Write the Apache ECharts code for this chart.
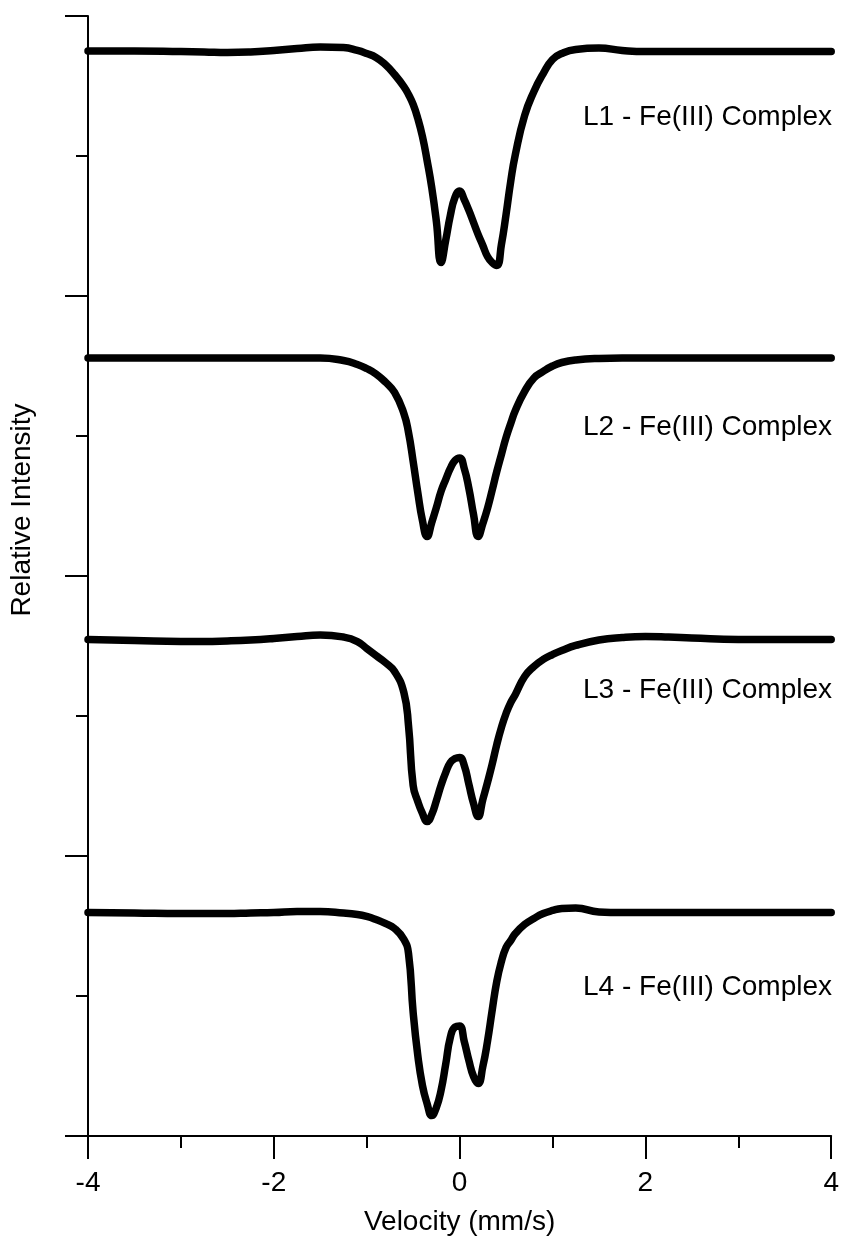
<!DOCTYPE html>
<html lang="en" style="height: 100%">

<head>
  <meta charset="utf-8">
  <style>
    html,
    body {
      margin: 0;
      padding: 0;
      width: 100%;
      height: 100%;
      overflow: hidden;
      background: #fff;
    }
  </style>
</head>

<body>
  <div id="container" style="height: 100%;width: 100%;"></div>

  <script type="text/javascript" src="https://cdn.jsdelivr.net/npm/echarts@6/dist/echarts.min.js"></script>
  <script type="text/javascript">

    var dom = document.getElementById('container');
    var myChart = echarts.init(dom, null, { renderer: 'canvas' });

    var fontFamily = '"Liberation Sans", Arial, sans-serif';

    // velocity grid (mm/s), shared by all four spectra
    let velocity = [-4, -3.5, -3, -2.75, -2.5, -2.25, -2, -1.75, -1.5, -1.25, -1.1, -1, -0.9, -0.8, -0.7, -0.6,
      -0.55, -0.5, -0.45, -0.4, -0.35, -0.3, -0.25, -0.2, -0.15, -0.1, -0.05, 0, 0.05, 0.1, 0.15, 0.2,
      0.25, 0.3, 0.35, 0.4, 0.45, 0.5, 0.55, 0.6, 0.7, 0.8, 0.9, 1, 1.1, 1.25, 1.5, 1.75, 2, 2.25, 2.5, 3, 3.5, 4];

    // relative intensity, stacked (arbitrary units, 0..8)
    let l1 = [7.750, 7.750, 7.746, 7.743, 7.739, 7.743, 7.754, 7.768, 7.779, 7.775, 7.754, 7.732, 7.704, 7.654, 7.582, 7.496,
      7.439, 7.368, 7.268, 7.139, 6.968, 6.775, 6.532, 6.239, 6.396, 6.575, 6.704, 6.750, 6.689, 6.611, 6.525, 6.439,
      6.361, 6.282, 6.239, 6.218, 6.368, 6.582, 6.818, 7.011, 7.289, 7.461, 7.589, 7.689, 7.732, 7.761, 7.771, 7.754, 7.746, 7.746, 7.746, 7.746, 7.746, 7.746];
    let l2 = [5.557, 5.557, 5.557, 5.557, 5.557, 5.557, 5.557, 5.557, 5.557, 5.539, 5.511, 5.482, 5.443, 5.386, 5.311, 5.161,
      5.025, 4.818, 4.596, 4.396, 4.282, 4.382, 4.489, 4.604, 4.689, 4.768, 4.825, 4.843, 4.768, 4.625, 4.439, 4.282,
      4.375, 4.482, 4.611, 4.746, 4.868, 4.989, 5.089, 5.182, 5.318, 5.414, 5.461, 5.500, 5.525, 5.543, 5.554, 5.557, 5.557, 5.557, 5.557, 5.557, 5.557, 5.557];
    let l3 = [3.546, 3.539, 3.532, 3.532, 3.536, 3.543, 3.554, 3.568, 3.579, 3.564, 3.532, 3.482, 3.432, 3.382, 3.318, 3.168,
      2.932, 2.504, 2.389, 2.304, 2.246, 2.296, 2.396, 2.504, 2.596, 2.668, 2.696, 2.704, 2.646, 2.511, 2.375, 2.282,
      2.404, 2.525, 2.654, 2.796, 2.918, 3.018, 3.096, 3.154, 3.282, 3.354, 3.404, 3.439, 3.468, 3.504, 3.543, 3.561, 3.568, 3.564, 3.557, 3.546, 3.546, 3.546];
    let l4 = [1.596, 1.593, 1.589, 1.589, 1.589, 1.593, 1.596, 1.604, 1.604, 1.593, 1.582, 1.568, 1.546, 1.518, 1.482, 1.404,
      1.304, 0.882, 0.575, 0.361, 0.232, 0.146, 0.204, 0.325, 0.511, 0.704, 0.779, 0.786, 0.675, 0.539, 0.425, 0.375,
      0.496, 0.675, 0.896, 1.104, 1.246, 1.346, 1.396, 1.446, 1.511, 1.554, 1.589, 1.611, 1.625, 1.629, 1.600, 1.596, 1.596, 1.596, 1.596, 1.596, 1.596, 1.596];

    let spectra = [l1, l2, l3, l4];
    let spectrumNames = ['L1 - Fe(III) Complex', 'L2 - Fe(III) Complex', 'L3 - Fe(III) Complex', 'L4 - Fe(III) Complex'];
    let labelTops = [103, 413, 676, 973];

    const toPairs = (ys) => velocity.map((v, i) => [v, ys[i]]);

    var option = {
      animation: false,
      backgroundColor: '#fff',
      grid: {
        left: 88,
        right: 10,
        top: 16,
        bottom: 105
      },
      xAxis: {
        type: 'value',
        min: -4,
        max: 4,
        interval: 2,
        name: 'Velocity (mm/s)',
        nameLocation: 'middle',
        nameGap: 72,
        nameTextStyle: { color: '#000', fontSize: 28, fontFamily: fontFamily },
        axisLine: { show: true, onZero: false, lineStyle: { color: '#000', width: 2 } },
        axisTick: { show: true, length: 23, lineStyle: { color: '#000', width: 2 } },
        minorTick: { show: true, splitNumber: 2, length: 12, lineStyle: { color: '#000', width: 2 } },
        axisLabel: { color: '#000', fontSize: 28, fontFamily: fontFamily, margin: 33 },
        splitLine: { show: false }
      },
      yAxis: {
        type: 'value',
        min: 0,
        max: 8,
        interval: 2,
        axisLine: { show: true, onZero: false, lineStyle: { color: '#000', width: 2 } },
        axisTick: { show: true, length: 23, lineStyle: { color: '#000', width: 2 } },
        minorTick: { show: true, splitNumber: 2, length: 12, lineStyle: { color: '#000', width: 2 } },
        axisLabel: { show: false },
        splitLine: { show: false }
      },
      graphic: spectrumNames.map((name, i) => ({
        type: 'text',
        right: 10,
        top: labelTops[i],
        style: {
          text: name,
          fill: '#000',
          font: '28px ' + fontFamily
        }
      })).concat([{
        // y axis title, rotated
        type: 'text',
        x: 22,
        y: 510,
        rotation: Math.PI / 2,
        style: {
          text: 'Relative Intensity',
          fill: '#000',
          font: '28px ' + fontFamily,
          align: 'center',
          verticalAlign: 'middle'
        }
      }]),
      series: spectra.map((ys, i) => ({
        name: spectrumNames[i],
        type: 'line',
        smooth: 0.5,
        showSymbol: false,
        clip: false,
        lineStyle: { color: '#000', width: 7.5, cap: 'round', join: 'round' },
        data: toPairs(ys)
      }))
    };

    myChart.setOption(option);
    window.addEventListener('resize', myChart.resize);

  </script>
</body>

</html>
